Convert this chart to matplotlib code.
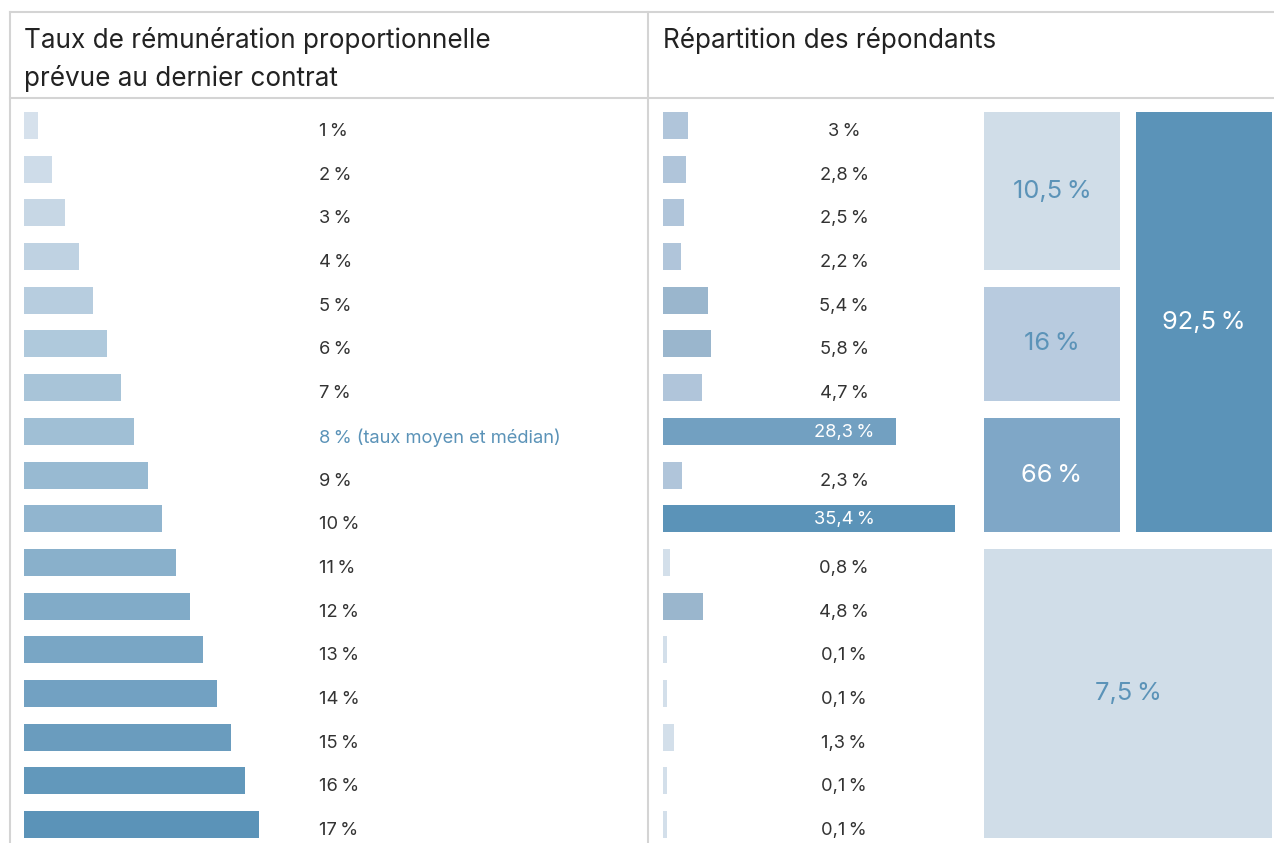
import numpy as np
import matplotlib
matplotlib.use("Agg")
import matplotlib.pyplot as plt
from matplotlib.colors import LinearSegmentedColormap
from matplotlib.lines import Line2D
import matplotlib.transforms as mtransforms

plt.rcParams['font.family'] = ['Inter', 'DejaVu Sans']

NB = "\u202f"

# data
taux = [1, 2, 3, 4, 5, 6, 7, 8, 9, 10, 11, 12, 13, 14, 15, 16, 17]
repartition = [3, 2.8, 2.5, 2.2, 5.4, 5.8, 4.7, 28.3, 2.3, 35.4, 0.8, 4.8, 0.1, 0.1, 1.3, 0.1, 0.1]
# groups of rows (first, last) with their share
groupes = [(0, 3), (4, 6), (7, 9), (0, 9), (10, 16)]
groupes_val = ["10,5", "16", "66", "92,5", "7,5"]
median_idx = 7

W, H = 1274, 843
fig = plt.figure(figsize=(W / 100, H / 100), dpi=100)

def fx(px):
    return px / W

def fy(py):
    return 1 - py / H

grey = "#d4d4d4"
dark = "#333333"
blue = "#5b93b8"

# table borders
for (x0, y0, x1, y1) in [(10, 12, W, 12), (10, 97.5, W, 97.5), (10, 12, 10, H), (648, 12, 648, H)]:
    fig.add_artist(Line2D([fx(x0), fx(x1)], [fy(y0), fy(y1)], color=grey, lw=1.5))

fig.text(fx(24), fy(48), "Taux de rémunération proportionnelle", fontsize=18.8, color="#222222", va="baseline")
fig.text(fx(24), fy(86), "prévue au dernier contrat", fontsize=18.8, color="#222222", va="baseline")
fig.text(fx(663), fy(48), "Répartition des répondants", fontsize=18.8, color="#222222", va="baseline")

# row geometry
row0, step = 125.5, 43.69
top_px, bot_px = 98, H
ylim = ((bot_px - row0) / step, (top_px - row0) / step)
bh = 27 / step
rows = np.arange(len(taux))

cmap = LinearSegmentedColormap.from_list("b", ["#d6e1ec", blue])

# left panel
axL = fig.add_axes([fx(24), fy(bot_px), fx(640 - 24), fy(top_px) - fy(bot_px)])
axL.set_xlim(0, (640 - 24) / 13.8)
axL.set_ylim(*ylim)
axL.barh(rows, taux, height=bh, left=0, color=[cmap((t - 1) / 16) for t in taux])
trL = mtransforms.blended_transform_factory(fig.transFigure, axL.transData)
for i, t in enumerate(taux):
    txt = f"{t}{NB}%"
    col = dark
    if i == median_idx:
        txt += " (taux moyen et médian)"
        col = blue
    axL.text(fx(319), i + 6 / step, txt, transform=trL, fontsize=13.2, color=col, va="center", ha="left")
axL.axis("off")

# right bars
def couleur(v):
    if v < 2:
        return "#d3dfea"
    if v <= 4.7:
        return "#b0c5da"
    if v < 10:
        return "#9ab6cd"
    if v < 30:
        return "#72a0c1"
    return blue

axR = fig.add_axes([fx(663), fy(bot_px), fx(975 - 663), fy(top_px) - fy(bot_px)])
axR.set_xlim(0, (975 - 663) / 8.25)
axR.set_ylim(*ylim)
axR.barh(rows, np.maximum(repartition, 0.45), height=bh, left=0, color=[couleur(v) for v in repartition])
trR = mtransforms.blended_transform_factory(fig.transFigure, axR.transData)
for i, v in enumerate(repartition):
    s = f"{v:g}".replace(".", ",") + NB + "%"
    if v > 20:
        axR.text(fx(844), i + 1 / step, s, transform=trR, fontsize=13.2, color="white", va="center", ha="center")
    else:
        axR.text(fx(844), i + 6 / step, s, transform=trR, fontsize=13.2, color=dark, va="center", ha="center")
axR.axis("off")

# grouped boxes
axB = fig.add_axes([fx(984), fy(bot_px), fx(1272 - 984), fy(top_px) - fy(bot_px)])
axB.set_xlim(0, 288)
axB.set_ylim(*ylim)
box_cols = [(0, 136), (0, 136), (0, 136), (152, 136), (0, 288)]
box_fill = ["#d0dde8", "#b8cbdf", "#7fa7c7", blue, "#d0dde8"]
box_txt = [blue, blue, "white", "white", blue]
for (a, b), lab, (x0, w), fc, tc in zip(groupes, groupes_val, box_cols, box_fill, box_txt):
    y0 = a - bh / 2
    y1 = b + bh / 2
    axB.bar(x0, y1 - y0, width=w, bottom=y0, align="edge", color=fc)
    axB.text(x0 + w / 2, (y0 + y1) / 2, lab + NB + "%", fontsize=18.3, color=tc, ha="center", va="center")
axB.axis("off")

fig.savefig("out.png", dpi=100)
